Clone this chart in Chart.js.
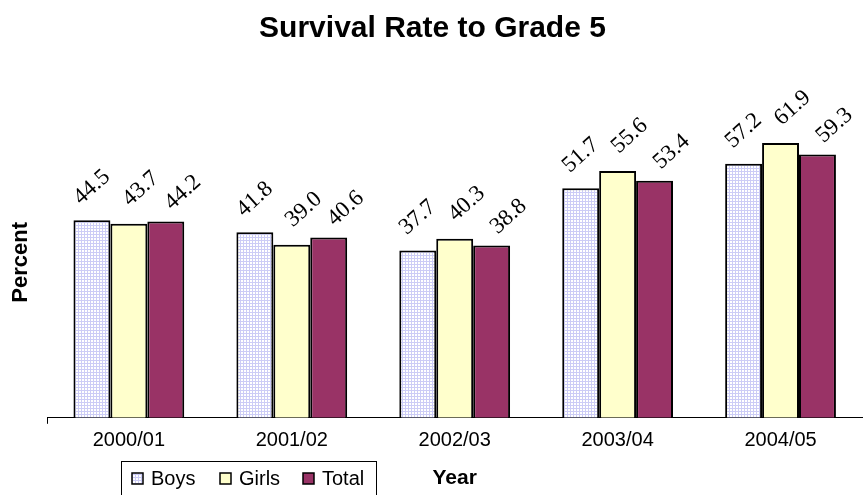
<!DOCTYPE html>
<html>
<head>
<meta charset="utf-8">
<script src="https://cdn.jsdelivr.net/npm/chart.js@4"></script>
<style>
  html, body { margin: 0; padding: 0; background: #fff; }
  #wrap { width: 863px; height: 495px; position: relative; }
</style>
</head>
<body>
<div id="wrap"><canvas id="chart"></canvas></div>
<script>
const years = ["2000/01", "2001/02", "2002/03", "2003/04", "2004/05"];
const boys = [44.5, 41.8, 37.7, 51.7, 57.2];
const girls = [43.7, 39.0, 40.3, 55.6, 61.9];
const total = [44.2, 40.6, 38.8, 53.4, 59.3];
const seriesNames = ["Boys", "Girls", "Total"];

// light blue grid fill for the Boys bars
function makeGridPattern() {
  const c = document.createElement("canvas");
  c.width = 3;
  c.height = 3;
  const g = c.getContext("2d");
  g.fillStyle = "#ffffff";
  g.fillRect(0, 0, 3, 3);
  g.fillStyle = "#ccccf6";
  g.fillRect(0, 0, 3, 1);
  g.fillRect(0, 0, 1, 3);
  return g.createPattern(c, "repeat");
}

const ctx = document.getElementById("chart").getContext("2d");
const gridFill = makeGridPattern();
const fills = [gridFill, "#ffffcc", "#993366"];

// rotated value labels above the bars
const labelShift = [
  { dx: 0, dy: -33 },
  { dx: 12, dy: -35 },
  { dx: 17, dy: -29 },
];
const valueLabels = {
  id: "valueLabels",
  afterDatasetsDraw(chart) {
    const c = chart.ctx;
    c.save();
    c.font = "23px 'Liberation Serif', 'Times New Roman', serif";
    c.fillStyle = "#000";
    c.textAlign = "center";
    c.textBaseline = "middle";
    chart.data.datasets.forEach((ds, i) => {
      chart.getDatasetMeta(i).data.forEach((bar, j) => {
        c.save();
        c.translate(bar.x + labelShift[i].dx, bar.y + labelShift[i].dy);
        c.rotate(-42 * Math.PI / 180);
        c.fillText(ds.data[j].toFixed(1), 0, 0);
        c.restore();
      });
    });
    c.restore();
  },
};

// boxed legend at the bottom left
const boxLegend = {
  id: "boxLegend",
  afterDraw(chart) {
    const c = chart.ctx;
    c.save();
    c.strokeStyle = "#000";
    c.lineWidth = 1;
    c.strokeRect(121.5, 461.5, 255, 40);
    c.font = "20px 'Liberation Sans', Arial, sans-serif";
    c.textBaseline = "middle";
    c.textAlign = "left";
    const xs = [132, 220, 303];
    seriesNames.forEach((name, i) => {
      c.fillStyle = fills[i];
      c.fillRect(xs[i], 473, 11, 11);
      c.lineWidth = 1.5;
      c.strokeStyle = "#000";
      c.strokeRect(xs[i], 473, 11, 11);
      c.fillStyle = "#000";
      c.fillText(name, xs[i] + 19, 479);
    });
    c.restore();
  },
};

new Chart(ctx, {
  type: "bar",
  data: {
    labels: years,
    datasets: [
      { label: "Boys", data: boys },
      { label: "Girls", data: girls },
      { label: "Total", data: total },
    ].map((d, i) => ({
      ...d,
      backgroundColor: fills[i],
      borderColor: "#000",
      borderWidth: 2,
      borderSkipped: "bottom",
      categoryPercentage: 0.68,
      barPercentage: 1.0,
    })),
  },
  options: {
    responsive: true,
    maintainAspectRatio: false,
    animation: false,
    layout: { padding: { left: 3, right: 1, top: 0, bottom: 4 } },
    plugins: {
      legend: { display: false },
      tooltip: { enabled: false },
      title: {
        display: true,
        text: "Survival Rate to Grade 5",
        color: "#000",
        font: { family: "'Liberation Sans', Arial, sans-serif", size: 30, weight: "bold" },
        padding: { top: 11, bottom: 60 },
      },
    },
    scales: {
      x: {
        grid: {
          display: true,
          drawOnChartArea: false,
          drawTicks: true,
          tickLength: 6,
          color: (c) => (c.index === 0 ? "#000" : "rgba(0,0,0,0)"),
        },
        border: { display: true, color: "#000", width: 1 },
        ticks: {
          color: "#000",
          padding: 5,
          font: { family: "'Liberation Sans', Arial, sans-serif", size: 20 },
        },
        title: {
          display: true,
          text: "Year",
          color: "#000",
          font: { family: "'Liberation Sans', Arial, sans-serif", size: 21, weight: "bold" },
          padding: { top: 8, bottom: 0 },
        },
      },
      y: {
        min: 0,
        max: 70,
        grid: { display: false },
        border: { display: false },
        ticks: { display: false },
        title: {
          display: true,
          text: "Percent",
          color: "#000",
          font: { family: "'Liberation Sans', Arial, sans-serif", size: 22, weight: "bold" },
          padding: 5,
        },
      },
    },
  },
  plugins: [valueLabels, boxLegend],
});
</script>
</body>
</html>
